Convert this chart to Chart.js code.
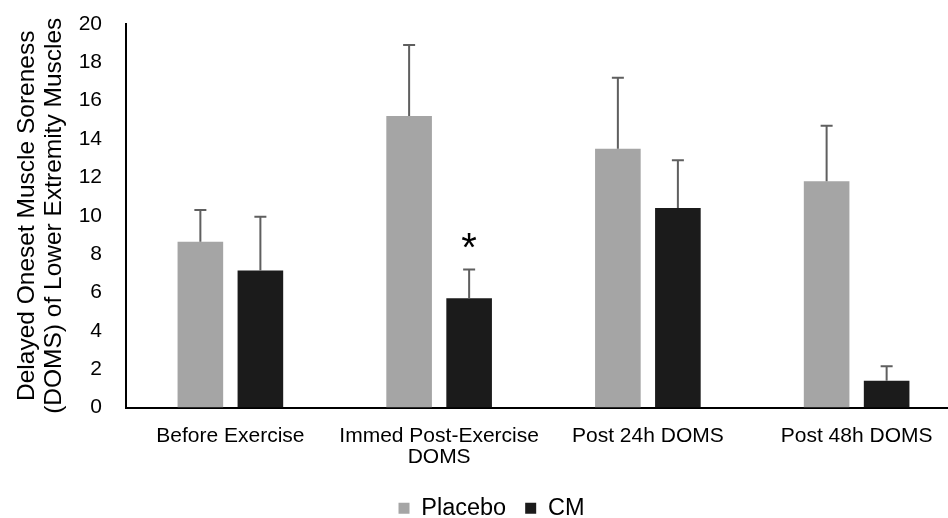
<!DOCTYPE html>
<html>
<head>
<meta charset="utf-8">
<script src="https://cdn.jsdelivr.net/npm/chart.js@4.4.1/dist/chart.umd.min.js"></script>
<style>
  html, body { margin: 0; padding: 0; background: #fff; overflow: hidden; }
  #wrap { width: 948px; height: 518px; overflow: hidden; }
</style>
</head>
<body>
<div id="wrap"><canvas id="domsChart" width="980" height="530"></canvas></div>
<script>
// categories and series
var categories = ["Before Exercise", ["Immed Post-Exercise", "DOMS"], "Post 24h DOMS", "Post 48h DOMS"];
var placeboMeans = [8.65, 15.2, 13.5, 11.8];
var placeboSD = [1.65, 3.7, 3.7, 2.9];
var cmMeans = [7.15, 5.7, 10.4, 1.4];
var cmSD = [2.8, 1.5, 2.5, 0.75];
var cmMarks = ["", "*", "", ""];
var yMin = 0, yMax = 20, yStep = 2;

var fontFamily = "'Liberation Sans', Arial, sans-serif";

// upper error bars + significance star
var errorBars = {
    id: 'errorBars',
    afterLayout: function(chart) {
        // legend sits a little right of the canvas centre in the original
        chart.legend.left += 11;
        chart.legend.right += 11;
    },
    afterDatasetsDraw: function(chart) {
        var ctx = chart.ctx;
        var yScale = chart.scales.y;
        var sds = [placeboSD, cmSD];
        ctx.save();
        for (var d = 0; d < chart.data.datasets.length; d++) {
            var meta = chart.getDatasetMeta(d);
            var vals = chart.data.datasets[d].data;
            meta.data.forEach(function(bar, i) {
                var top = yScale.getPixelForValue(vals[i] + sds[d][i]);
                ctx.strokeStyle = '#5f5f5f';
                ctx.lineWidth = 2;
                ctx.beginPath();
                ctx.moveTo(bar.x, bar.y);
                ctx.lineTo(bar.x, top);
                ctx.moveTo(bar.x - 6, top);
                ctx.lineTo(bar.x + 6, top);
                ctx.stroke();
                if (d === 1 && cmMarks[i]) {
                    ctx.fillStyle = '#000';
                    ctx.font = '40px ' + fontFamily;
                    ctx.textAlign = 'center';
                    ctx.textBaseline = 'middle';
                    ctx.fillText(cmMarks[i], bar.x, top - 19);
                }
            });
        }
        ctx.restore();
    }
};

var chart = new Chart(document.getElementById('domsChart'), {
    type: 'bar',
    data: {
        labels: categories,
        datasets: [{
            label: 'Placebo',
            data: placeboMeans,
            backgroundColor: '#a5a5a5',
            borderWidth: 0,
            categoryPercentage: 0.575,
            barPercentage: 0.76
        }, {
            label: 'CM',
            data: cmMeans,
            backgroundColor: '#1b1b1b',
            borderWidth: 0,
            categoryPercentage: 0.575,
            barPercentage: 0.76
        }]
    },
    options: {
        responsive: false,
        animation: false,
        layout: { padding: { top: 24, right: 19, left: 0, bottom: 0 } },
        plugins: {
            tooltip: { enabled: false },
            legend: {
                position: 'bottom',
                labels: {
                    boxWidth: 11,
                    boxHeight: 11,
                    padding: 19,
                    color: '#000',
                    font: { family: fontFamily, size: 23.5 }
                }
            }
        },
        scales: {
            x: {
                grid: { display: false, drawTicks: false },
                border: { display: true, color: '#000', width: 2 },
                ticks: {
                    color: '#000',
                    padding: 18,
                    maxRotation: 0,
                    font: { family: fontFamily, size: 21, lineHeight: 1.0 }
                },
                afterFit: function(scale) { scale.height = 70; }
            },
            y: {
                min: yMin,
                max: yMax,
                grid: { display: false, drawTicks: true, tickLength: 24 },
                border: { display: true, color: '#000', width: 2 },
                ticks: {
                    stepSize: yStep,
                    color: '#000',
                    padding: 0,
                    font: { family: fontFamily, size: 21 }
                },
                title: {
                    display: true,
                    text: ["Delayed Oneset Muscle Soreness", "(DOMS) of Lower Extremity Muscles"],
                    color: '#000',
                    padding: { top: 14, bottom: 0 },
                    font: { family: fontFamily, size: 24.5, lineHeight: 1.1 }
                },
                afterFit: function(scale) { scale.width = 126; }
            }
        }
    },
    plugins: [errorBars]
});
</script>
</body>
</html>
